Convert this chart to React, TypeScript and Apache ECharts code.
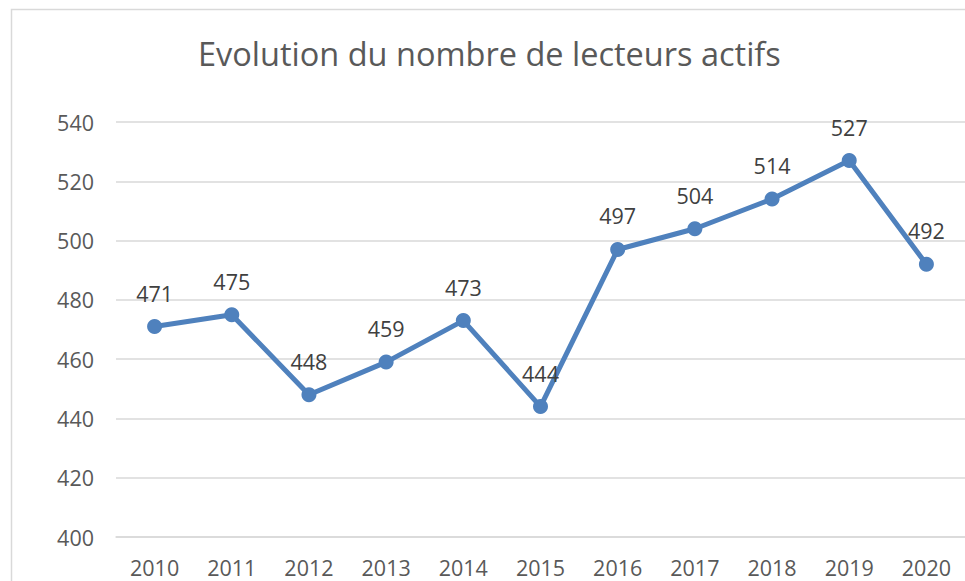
import React, { useEffect, useRef } from "react";
import * as echarts from "echarts";

const years = ["2010", "2011", "2012", "2013", "2014", "2015", "2016", "2017", "2018", "2019", "2020"];
const readers = [471, 475, 448, 459, 473, 444, 497, 504, 514, 527, 492];
const yMin = 400;
const yMax = 540;
const yStep = 20;
const titleText = "Evolution du nombre de lecteurs actifs";

export default function App() {
  const ref = useRef<HTMLDivElement>(null);
  useEffect(() => {
    if (!ref.current) return;
    const chart = echarts.init(ref.current, undefined, { renderer: "svg" });
    const font = "'Open Sans', 'Noto Sans', sans-serif";
    chart.setOption({
      animation: false,
      backgroundColor: "#ffffff",
      title: {
        text: titleText,
        left: 193,
        top: 32,
        textStyle: { fontFamily: font, fontSize: 32.5, fontWeight: "normal", color: "#595959" },
      },
      graphic: [
        {
          type: "rect",
          shape: { x: 11.5, y: 9.5, width: 1000, height: 700 },
          style: { fill: "none", stroke: "#d9d9d9", lineWidth: 1.5 },
          silent: true,
          z: -10,
        },
      ],
      grid: { left: 116, top: 122, width: 855, height: 415, containLabel: false },
      xAxis: {
        type: "category",
        data: years,
        boundaryGap: true,
        axisLine: { show: true, lineStyle: { color: "#d9d9d9", width: 1.5 } },
        axisTick: { show: false },
        axisLabel: { color: "#595959", fontFamily: font, fontSize: 21.5, margin: 19 },
      },
      yAxis: {
        type: "value",
        min: yMin,
        max: yMax,
        interval: yStep,
        axisLine: { show: false },
        axisTick: { show: false },
        splitLine: { lineStyle: { color: "#d9d9d9", width: 1.5 } },
        axisLabel: { color: "#595959", fontFamily: font, fontSize: 21.5, margin: 22 },
      },
      series: [
        {
          type: "line",
          data: readers,
          symbol: "circle",
          symbolSize: 15,
          lineStyle: { color: "#4f81bd", width: 5 },
          itemStyle: { color: "#4f81bd" },
          label: {
            show: true,
            position: "top",
            distance: 15,
            color: "#404040",
            fontFamily: font,
            fontSize: 21.5,
          },
        },
      ],
    });
    return () => chart.dispose();
  }, []);
  return (
    <div
      ref={ref}
      style={{ position: "absolute", left: 0, top: 0, width: 965, height: 581 }}
    />
  );
}
